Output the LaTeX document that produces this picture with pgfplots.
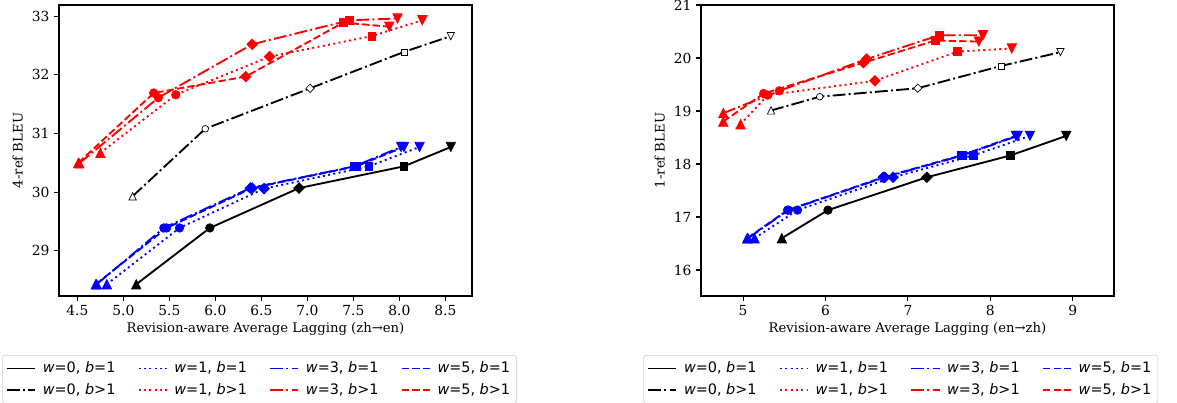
\documentclass[border=0pt]{standalone}
\usepackage{fontspec}
\setmainfont{DejaVu Serif}
\newfontfamily\legfont{DejaVu Sans}
\usepackage{pgfplots}
\pgfplotsset{compat=1.18}
\usepackage{pgfplotstable}

% matplotlib-like markers
\pgfdeclareplotmark{tup*}{%
  \pgfpathmoveto{\pgfqpoint{0pt}{1.1\pgfplotmarksize}}%
  \pgfpathlineto{\pgfqpoint{-1.1\pgfplotmarksize}{-1.1\pgfplotmarksize}}%
  \pgfpathlineto{\pgfqpoint{1.1\pgfplotmarksize}{-1.1\pgfplotmarksize}}%
  \pgfpathclose\pgfusepathqfillstroke}
\pgfdeclareplotmark{tdn*}{%
  \pgfpathmoveto{\pgfqpoint{0pt}{-1.1\pgfplotmarksize}}%
  \pgfpathlineto{\pgfqpoint{-1.1\pgfplotmarksize}{1.1\pgfplotmarksize}}%
  \pgfpathlineto{\pgfqpoint{1.1\pgfplotmarksize}{1.1\pgfplotmarksize}}%
  \pgfpathclose\pgfusepathqfillstroke}
\pgfdeclareplotmark{dmd*}{%
  \pgfpathmoveto{\pgfqpoint{0pt}{1.25\pgfplotmarksize}}%
  \pgfpathlineto{\pgfqpoint{1.25\pgfplotmarksize}{0pt}}%
  \pgfpathlineto{\pgfqpoint{0pt}{-1.25\pgfplotmarksize}}%
  \pgfpathlineto{\pgfqpoint{-1.25\pgfplotmarksize}{0pt}}%
  \pgfpathclose\pgfusepathqfillstroke}
\pgfdeclareplotmark{sq*}{%
  \pgfpathrectangle{\pgfqpoint{-0.9\pgfplotmarksize}{-0.9\pgfplotmarksize}}{\pgfqpoint{1.8\pgfplotmarksize}{1.8\pgfplotmarksize}}%
  \pgfusepathqfillstroke}

\pgfplotsset{
  mk/.style n args={3}{only marks, scatter, point meta=explicit symbolic, forget plot,
    mark size=#3,
    scatter/classes={
      t={mark=tup*,solid,draw=#1,fill=#2,line width=0.5pt},
      c={mark=*,solid,draw=#1,fill=#2,line width=0.5pt},
      d={mark=dmd*,solid,draw=#1,fill=#2,line width=0.5pt},
      s={mark=sq*,solid,draw=#1,fill=#2,line width=0.5pt},
      v={mark=tdn*,solid,draw=#1,fill=#2,line width=0.5pt}}},
  fmk/.style={mk={#1}{#1}{3.2pt}},
  omk/.style={mk={black}{white}{2.5pt}},
  ln/.style={line width=1.4pt, mark=none},
  dsh/.style={dash pattern=on 5.5pt off 2.4pt},
  dtt/.style={dash pattern=on 1.5pt off 2.5pt},
  dsd/.style={dash pattern=on 9.6pt off 2.4pt on 1.5pt off 2.4pt},
  base/.style={
    scale only axis, width=309.75pt, height=218.25pt, anchor=south west,
    axis line style={line width=0.8pt},
    tick align=outside, xtick pos=left, ytick pos=left,
    major tick length=3.6pt,
    every tick/.style={black, line width=0.8pt},
    /pgf/number format/assume math mode=true,
    tick label style={font=\fontsize{10.4}{12}\selectfont},
    label style={font=\fontsize{9.9}{12}\selectfont},
    xlabel style={yshift=2pt},
    legend columns=4,
    legend cell align=left,
    legend image code/.code={\draw[##1] (0cm,0cm) -- (0.74cm,0cm);},
    legend style={font=\legfont\fontsize{10.8}{12}\selectfont, draw=black!20,
      rounded corners=2pt, fill=white, inner xsep=3pt, inner ysep=3pt,
      anchor=north west, row sep=2.5pt,
      /tikz/every odd column/.append style={column sep=3pt},
      /tikz/every even column/.append style={column sep=14.8pt}},
  },
}

% left chart (zh->en)
\pgfplotstableread{
x y m
5.14 28.43 t
5.94 29.39 c
6.91 30.07 d
8.05 30.44 s
8.56 30.77 v
}\Lkz
\pgfplotstableread{
x y m
5.10 29.93 t
5.89 31.08 c
7.03 31.77 d
8.05 32.39 s
8.56 32.66 v
}\Lko
\pgfplotstableread{
x y m
4.82 28.43 t
5.61 29.39 c
6.53 30.06 d
7.67 30.44 s
8.22 30.77 v
}\Lba
\pgfplotstableread{
x y m
4.71 28.43 t
5.44 29.39 c
6.38 30.07 d
7.51 30.44 s
8.02 30.77 v
}\Lbb
\pgfplotstableread{
x y m
4.70 28.43 t
5.47 29.39 c
6.40 30.07 d
7.53 30.44 s
8.05 30.77 v
}\Lbc
\pgfplotstableread{
x y m
4.75 30.67 t
5.57 31.66 c
6.59 32.31 d
7.70 32.66 s
8.25 32.93 v
}\Lra
\pgfplotstableread{
x y m
4.52 30.49 t
5.38 31.61 c
6.40 32.52 d
7.46 32.93 s
7.98 32.96 v
}\Lrb
\pgfplotstableread{
x y m
4.51 30.50 t
5.33 31.69 c
6.33 31.97 d
7.39 32.89 s
7.89 32.82 v
}\Lrc

% right chart (en->zh)
\pgfplotstableread{
x y m
5.47 16.60 t
6.03 17.13 c
7.23 17.75 d
8.24 18.16 s
8.92 18.53 v
}\Rkz
\pgfplotstableread{
x y m
5.34 19.01 t
5.93 19.27 c
7.12 19.43 d
8.13 19.85 s
8.85 20.11 v
}\Rko
\pgfplotstableread{
x y m
5.14 16.60 t
5.66 17.13 c
6.82 17.75 d
7.79 18.16 s
8.48 18.53 v
}\Rba
\pgfplotstableread{
x y m
5.06 16.60 t
5.55 17.13 c
6.72 17.75 d
7.66 18.16 s
8.33 18.53 v
}\Rbb
\pgfplotstableread{
x y m
5.05 16.60 t
5.54 17.13 c
6.70 17.75 d
7.64 18.16 s
8.31 18.53 v
}\Rbc
\pgfplotstableread{
x y m
4.97 18.75 t
5.30 19.30 c
6.60 19.57 d
7.60 20.12 s
8.26 20.18 v
}\Rra
\pgfplotstableread{
x y m
4.76 18.96 t
5.44 19.38 c
6.50 19.98 d
7.38 20.43 s
7.91 20.43 v
}\Rrb
\pgfplotstableread{
x y m
4.76 18.80 t
5.25 19.33 c
6.46 19.91 d
7.33 20.33 s
7.86 20.31 v
}\Rrc

\begin{document}
\begin{tikzpicture}
\begin{axis}[base, at={(44.25pt,-222pt)},
  xmin=4.30, xmax=8.79, ymin=28.23, ymax=33.19,
  xtick={4.5,5,5.5,6,6.5,7,7.5,8,8.5}, ytick={29,30,31,32,33},
  xticklabel style={/pgf/number format/fixed, /pgf/number format/fixed zerofill, /pgf/number format/precision=1},
  xlabel={Revision-aware Average Lagging (zh→en)}, ylabel={4-ref BLEU},
  legend style={at={(-0.138,-0.203)}}]
\addplot[black, ln] table[x=x,y=y] {\Lkz};
\addlegendentry{\textit{w}=0, \textit{b}=1}
\addplot[fmk=black] table[x=x,y=y,meta=m] {\Lkz};
\addplot[blue, ln, dtt] table[x=x,y=y] {\Lba};
\addlegendentry{\textit{w}=1, \textit{b}=1}
\addplot[fmk=blue] table[x=x,y=y,meta=m] {\Lba};
\addplot[blue, ln, dsd] table[x=x,y=y] {\Lbb};
\addlegendentry{\textit{w}=3, \textit{b}=1}
\addplot[fmk=blue] table[x=x,y=y,meta=m] {\Lbb};
\addplot[blue, ln, dsh] table[x=x,y=y] {\Lbc};
\addlegendentry{\textit{w}=5, \textit{b}=1}
\addplot[fmk=blue] table[x=x,y=y,meta=m] {\Lbc};
\addplot[black, ln, dsd] table[x=x,y=y] {\Lko};
\addlegendentry{\textit{w}=0, \textit{b}>1}
\addplot[omk] table[x=x,y=y,meta=m] {\Lko};
\addplot[red, ln, dtt] table[x=x,y=y] {\Lra};
\addlegendentry{\textit{w}=1, \textit{b}>1}
\addplot[fmk=red] table[x=x,y=y,meta=m] {\Lra};
\addplot[red, ln, dsd] table[x=x,y=y] {\Lrb};
\addlegendentry{\textit{w}=3, \textit{b}>1}
\addplot[fmk=red] table[x=x,y=y,meta=m] {\Lrb};
\addplot[red, ln, dsh] table[x=x,y=y] {\Lrc};
\addlegendentry{\textit{w}=5, \textit{b}>1}
\addplot[fmk=red] table[x=x,y=y,meta=m] {\Lrc};
\end{axis}

\begin{axis}[base, at={(525.75pt,-222pt)},
  xmin=4.49, xmax=9.50, ymin=15.51, ymax=21.0,
  xtick={5,6,7,8,9}, ytick={16,17,18,19,20,21},
  xlabel={Revision-aware Average Lagging (en→zh)}, ylabel={1-ref BLEU},
  legend style={at={(-0.140,-0.203)}}]
\addplot[black, ln] table[x=x,y=y] {\Rkz};
\addlegendentry{\textit{w}=0, \textit{b}=1}
\addplot[fmk=black] table[x=x,y=y,meta=m] {\Rkz};
\addplot[blue, ln, dtt] table[x=x,y=y] {\Rba};
\addlegendentry{\textit{w}=1, \textit{b}=1}
\addplot[fmk=blue] table[x=x,y=y,meta=m] {\Rba};
\addplot[blue, ln, dsd] table[x=x,y=y] {\Rbb};
\addlegendentry{\textit{w}=3, \textit{b}=1}
\addplot[fmk=blue] table[x=x,y=y,meta=m] {\Rbb};
\addplot[blue, ln, dsh] table[x=x,y=y] {\Rbc};
\addlegendentry{\textit{w}=5, \textit{b}=1}
\addplot[fmk=blue] table[x=x,y=y,meta=m] {\Rbc};
\addplot[black, ln, dsd] table[x=x,y=y] {\Rko};
\addlegendentry{\textit{w}=0, \textit{b}>1}
\addplot[omk] table[x=x,y=y,meta=m] {\Rko};
\addplot[red, ln, dtt] table[x=x,y=y] {\Rra};
\addlegendentry{\textit{w}=1, \textit{b}>1}
\addplot[fmk=red] table[x=x,y=y,meta=m] {\Rra};
\addplot[red, ln, dsd] table[x=x,y=y] {\Rrb};
\addlegendentry{\textit{w}=3, \textit{b}>1}
\addplot[fmk=red] table[x=x,y=y,meta=m] {\Rrb};
\addplot[red, ln, dsh] table[x=x,y=y] {\Rrc};
\addlegendentry{\textit{w}=5, \textit{b}>1}
\addplot[fmk=red] table[x=x,y=y,meta=m] {\Rrc};
\end{axis}
\pgfresetboundingbox
\path[use as bounding box] (0pt,0pt) rectangle (882.75pt,-302.25pt);
\end{tikzpicture}
\end{document}
